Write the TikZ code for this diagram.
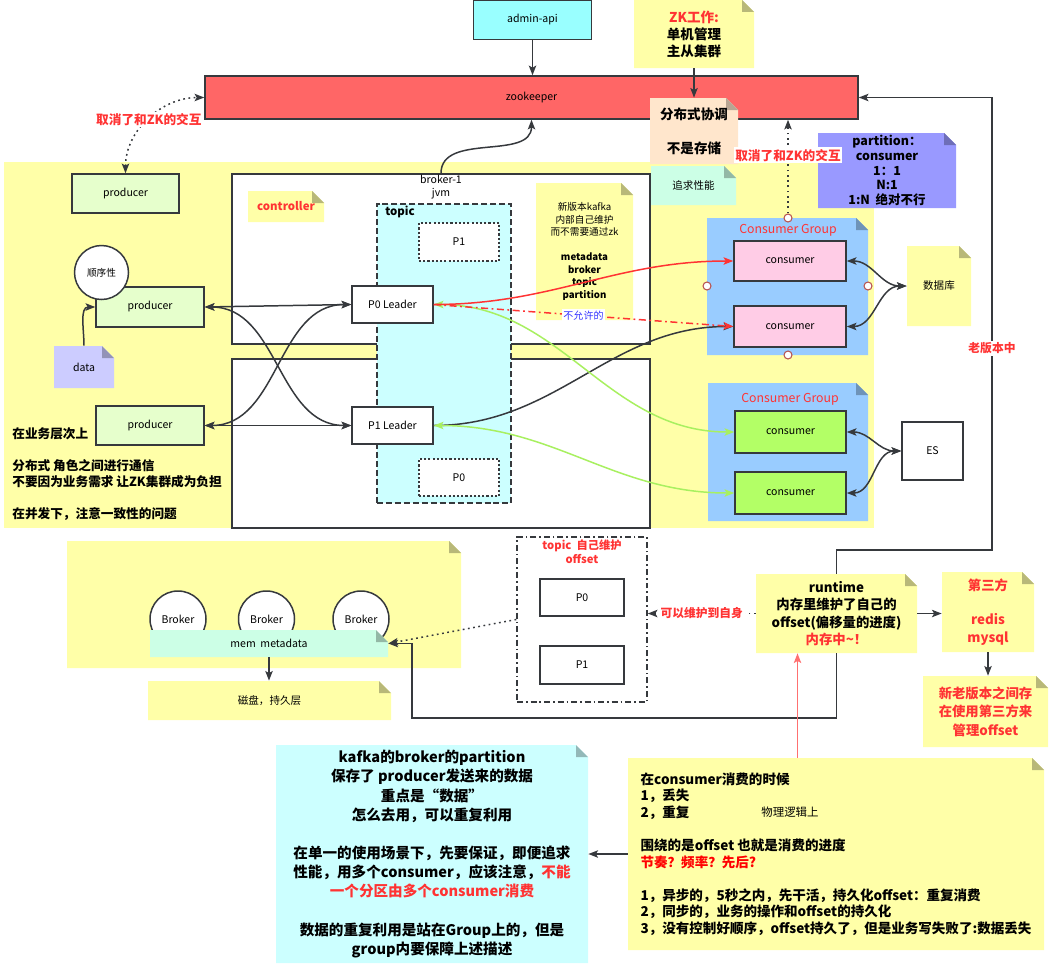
\documentclass[tikz,border=0pt]{standalone}
\usepackage{fontspec}
\setmainfont{Noto Sans CJK SC}
\usetikzlibrary{arrows.meta}
\definecolor{edge}{HTML}{36393D}
\definecolor{notey}{HTML}{FFFFA8}
\definecolor{zkred}{HTML}{FF6666}
\definecolor{apicyan}{HTML}{99FFFF}
\definecolor{prodgreen}{HTML}{E6FFCC}
\definecolor{topiccyan}{HTML}{CCFFFF}
\definecolor{cgblue}{HTML}{99CCFF}
\definecolor{conspink}{HTML}{FFCCE6}
\definecolor{consgreen}{HTML}{B3FF66}
\definecolor{partpurple}{HTML}{9999FF}
\definecolor{peach}{HTML}{FFE6CC}
\definecolor{mint}{HTML}{CCFFE6}
\definecolor{lav}{HTML}{CCCCFF}
\definecolor{alert}{HTML}{FF3333}
\definecolor{okgreen}{HTML}{A8F060}
\definecolor{pinkline}{HTML}{FF7070}
\definecolor{portred}{HTML}{B85450}
\definecolor{nogo}{HTML}{3333FF}
\newcommand{\foldsz}{0.24cm}
\newcommand{\lblfont}{\fontsize{6}{7.4}\selectfont}
\newcommand{\seqfont}{\fontsize{5.5}{6.5}\selectfont}
\newcommand{\tagfont}{\fontsize{7.2}{9}\selectfont\bfseries}
\newcommand{\zkfont}{\fontsize{7.7}{9.7}\selectfont\bfseries}
\newcommand{\newverfont}{\fontsize{5.5}{7.1}\selectfont}
\newcommand{\partfont}{\fontsize{7.1}{8.4}\selectfont\bfseries}
\newcommand{\cgfont}{\fontsize{7}{8}\selectfont}
\newcommand{\sidefont}{\fontsize{7.2}{9.07}\selectfont\bfseries}
\newcommand{\runfont}{\fontsize{7.6}{9.8}\selectfont\bfseries}
\newcommand{\kafkafont}{\fontsize{8.3}{10.9}\selectfont\bfseries}
\newcommand{\consfont}{\fontsize{7.7}{9.45}\selectfont\bfseries}
\newcommand{\offfont}{\fontsize{6.4}{8}\selectfont\bfseries}
\newcommand{\smalltagfont}{\fontsize{6.7}{8}\selectfont\bfseries}
\tikzset{
  >={Stealth[length=5.5pt,width=4.2pt,inset=1.2pt]},
  boxsize/.style 2 args={minimum width=#1*0.02cm, minimum height=#2*0.02cm},
  plainbox/.style={draw=edge, line width=0.85pt, inner sep=1pt, align=center, font=\lblfont},
  dotbox/.style={plainbox, dash pattern=on 1.2pt off 1.2pt, line width=1pt},
  note/.style={inner sep=1pt, align=center, font=\lblfont, path picture={
      \fill[#1] (path picture bounding box.south west) -- (path picture bounding box.north west)
        -- ([xshift=-\foldsz]path picture bounding box.north east) -- ([yshift=-\foldsz]path picture bounding box.north east)
        -- (path picture bounding box.south east) -- cycle;
      \fill[#1!72!black] ([xshift=-\foldsz]path picture bounding box.north east) -- ([yshift=-\foldsz]path picture bounding box.north east)
        -- ([xshift=-\foldsz,yshift=-\foldsz]path picture bounding box.north east) -- cycle;}},
  port/.style={circle, draw=portred, fill=white, line width=0.6pt, minimum size=8*0.02cm, inner sep=0},
  link/.style={draw=edge, line width=0.85pt},
  dotlink/.style={link, dash pattern=on 1pt off 2pt},
  redtag/.style={font=\tagfont, text=alert, inner sep=1pt},
}
\begin{document}
\begin{tikzpicture}[x=0.02cm, y=-0.02cm]
\useasboundingbox (0,0) rectangle (1060,970);
\node[fill=notey, boxsize={870}{366}] (bizarea) at (439,345) {};
\node[plainbox, fill=apicyan, boxsize={118}{39}] (adminapi) at (532.5,20) {admin-api};
\node[plainbox, fill=zkred, boxsize={653}{43}] (zk) at (531.5,97.5) {zookeeper};
\node[note=notey, boxsize={120}{68}, font=\zkfont] (zkwork) at (694,34) {\textcolor{alert}{ZK工作:}\\单机管理\\主从集群};
\node[note=peach, boxsize={88}{66}, font=\zkfont] (coord) at (694,131) {分布式协调\\ \mbox{}\\不是存储};
\node[plainbox, fill=prodgreen, boxsize={107}{39}] (producerA) at (125.5,193.5) {producer};
\node[plainbox, fill=white, boxsize={418}{170}] (brokerup) at (441,259) {};
\node[plainbox, fill=white, boxsize={418}{169}] (brokerdown) at (441,443.5) {};
\node[font=\lblfont, align=center, inner sep=0] (brokertag) at (441,187) {broker-1\\jvm};
\node[note=notey, boxsize={76}{31}, font=\fontsize{6.5}{8}\selectfont\bfseries, text=alert] (controller) at (286,206.5) {controller};
\node[draw=edge, line width=0.85pt, dash pattern=on 3.4pt off 1.7pt, fill=topiccyan, boxsize={134}{299}] (topic) at (444,353.5) {};
\node[font=\fontsize{6.5}{8}\selectfont\bfseries, anchor=west, inner sep=0] (topictag) at (385,212) {topic};
\node[dotbox, fill=white, boxsize={80}{38}] (pone) at (459,242) {P1};
\node[dotbox, fill=white, boxsize={80}{37}] (pzero) at (459,477.5) {P0};
\node[plainbox, fill=white, boxsize={81}{37}] (leaderzero) at (392.5,304.5) {P0 Leader};
\node[plainbox, fill=white, boxsize={81}{37}] (leaderone) at (392.5,425.5) {P1 Leader};
\node[note=notey, boxsize={97}{137}, font=\newverfont] (newver) at (584.5,251.5) {新版本kafka\\内部自己维护\\而不需要通过zk\\ \mbox{}\\\textbf{metadata}\\\textbf{broker}\\\textbf{topic}\\\textbf{partition}};
\node[note=mint, boxsize={85}{39}] (perf) at (693.5,185.5) {追求性能};
\node[note=partpurple, boxsize={138}{75}, font=\partfont] (partnote) at (887,170.5) {partition：\\consumer\\1：1\\N:1\\1:N\ \ 绝对不行};
\node[note=cgblue, boxsize={161}{137}] (cgone) at (787.5,286.5) {};
\node[font=\cgfont, text=alert] (cgonetag) at (788,230) {Consumer Group};
\node[plainbox, fill=conspink, boxsize={112}{40}] (consA) at (790,261) {consumer};
\node[plainbox, fill=conspink, boxsize={112}{41}] (consB) at (790,326.5) {consumer};
\foreach \portx/\porty/\portname in {707/286/pwest, 868/286/peast, 788/355/psouth, 788/218/pnorth}
  \node[port] (\portname) at (\portx,\porty) {};
\node[note=notey, boxsize={64}{80}] (db) at (939,286) {数据库};
\node[note=cgblue, boxsize={160}{138}] (cgtwo) at (788,452) {};
\node[font=\cgfont, text=alert] (cgtwotag) at (790,399) {Consumer Group};
\node[plainbox, fill=consgreen, boxsize={111}{42}] (consC) at (790.5,432) {consumer};
\node[plainbox, fill=consgreen, boxsize={111}{42}] (consD) at (790.5,493) {consumer};
\node[plainbox, fill=white, boxsize={61}{58}] (es) at (932.5,451) {ES};
\node[plainbox, fill=prodgreen, boxsize={108}{40}] (producerB) at (150,307) {producer};
\node[plainbox, fill=prodgreen, boxsize={108}{39}] (producerC) at (150,425.5) {producer};
\node[circle, draw=edge, line width=0.85pt, fill=white, minimum size=54*0.02cm, inner sep=0, font=\seqfont] (seq) at (101.5,272.5) {顺序性};
\node[note=lav, boxsize={60}{42}] (data) at (84,367) {data};
\node[font=\sidefont, align=left, anchor=west, inner sep=0] (bizlabel) at (12,474) {在业务层次上\\ \mbox{}\\分布式 角色之间进行通信\\不要因为业务需求 让ZK集群成为负担\\ \mbox{}\\在并发下，注意一致性的问题};
\node[note=notey, boxsize={394}{127}] (brokers) at (264,604.5) {};
\foreach \bx [count=\bi] in {178,266.5,361}
  \node[circle, draw=edge, line width=0.85pt, fill=white, minimum size=56*0.02cm, inner sep=0, font=\lblfont] (bnode\bi) at (\bx,619) {Broker};
\node[note=mint, boxsize={238}{27}] (memmeta) at (269,643.5) {mem\ \ metadata};
\node[note=notey, boxsize={243}{39}] (disk) at (269.5,700.5) {磁盘，持久层};
\node[draw=edge, line width=0.85pt, dash pattern=on 3.4pt off 1.7pt on 0.9pt off 1.7pt, fill=white, boxsize={130}{165}] (offsetbox) at (582,619.5) {};
\node[font=\offfont, text=alert, align=center, inner sep=0] (offsettag) at (582,552) {topic\ \ 自己维护\\offset};
\node[plainbox, fill=white, boxsize={84}{37}] (tpzero) at (582,597.5) {P0};
\node[plainbox, fill=white, boxsize={84}{38}] (tpone) at (582,665) {P1};
\node[note=notey, boxsize={161}{79}, font=\runfont] (runtime) at (836.5,613.5) {runtime\\内存里维护了自己的\\offset(偏移量的进度)\\\textcolor{alert}{内存中\textasciitilde！}};
\node[note=notey, boxsize={92}{80}, font=\runfont, text=alert] (third) at (988,612) {第三方\\ \mbox{}\\redis\\mysql};
\node[note=notey, boxsize={125}{71}, font=\fontsize{7.6}{10.5}\selectfont\bfseries, text=alert] (oldnew) at (985.5,711.5) {新老版本之间存\\在使用第三方来\\管理offset};
\node[note=topiccyan, boxsize={312}{218}, font=\kafkafont] (kafkanote) at (432,854) {kafka的broker的partition\\保存了 producer发送来的数据\\重点是“数据”\\怎么去用，可以重复利用\\ \mbox{}\\在单一的使用场景下，先要保证，即便追求\\性能，用多个consumer，应该注意，\textcolor{alert}{不能}\\\textcolor{alert}{一个分区由多个consumer消费}\\ \mbox{}\\数据的重复利用是站在Group上的，但是\\group内要保障上述描述};
\node[note=notey, boxsize={416}{192}, font=\consfont, align=left] (consnote) at (836,854) {在consumer消费的时候\\1，丢失\\2，重复\\ \mbox{}\\围绕的是offset 也就是消费的进度\\\textcolor{red}{节奏？频率？先后?}\\ \mbox{}\\1，异步的，5秒之内，先干活，持久化offset：重复消费\\2，同步的，业务的操作和offset的持久化\\3，没有控制好顺序，offset持久了，但是业务写失败了:数据丢失};
\node[font=\fontsize{6.5}{8}\selectfont] (physlabel) at (790,812) {物理逻辑上};
\coordinate (oldcorner) at (992,550);
\coordinate (memcorner) at (412,718);
\coordinate (pinkfoot) at ([xshift=-0.77cm]consnote.north);
\draw[link, ->] (adminapi.south) -- (adminapi.south |- zk.north);
\draw[link, ->] (zkwork.south) -- (coord.north);
\draw[dotlink, <->] (producerA.north) to[out=90,in=180] node[redtag, fill=white]{取消了和ZK的交互} (zk.west);
\draw[link, ->] (brokerup.north) to[out=90,in=-90] (zk.south);
\draw[dotlink, ->] (pnorth.north) -- (pnorth.north |- zk.south) node[pos=0.62, redtag, fill=white]{取消了和ZK的交互};
\draw[link, ->] (data.north) to[out=90,in=180] (producerB.west);
\draw[link, <->] (producerB.east) -- (leaderzero.west);
\draw[link, <->] (producerB.east) to[out=0,in=180] (leaderone.west);
\draw[link, <->] (producerC.east) -- (leaderone.west);
\draw[link, <->] (producerC.east) to[out=0,in=180] (leaderzero.west);
\draw[link, ->] (leaderone.east) to[out=0,in=180] (consB.west);
\draw[link, draw=okgreen, <->] (leaderzero.east) to[out=0,in=180] (consC.west);
\draw[link, draw=okgreen, <->] (leaderone.east) to[out=0,in=180] (consD.west);
\draw[link, draw=alert, ->] (leaderzero.east) to[out=0,in=180] (consA.west);
\draw[link, draw=alert, ->, dash pattern=on 4pt off 2pt on 1pt off 2pt] (leaderzero.east) -- node[fill=white, text=nogo, font=\fontsize{5.7}{7}\selectfont, inner sep=1pt]{不允许的} (consB.west);
\draw[link, <->] (consA.east) to[out=0,in=180] (db.west);
\draw[link, <->] (consB.east) to[out=0,in=180] (db.west);
\draw[link, <->] (consC.east) to[out=0,in=180] (es.west);
\draw[link, <->] (consD.east) to[out=0,in=180] (es.west);
\draw[link, ->] (runtime.north) |- (oldcorner) -- (oldcorner |- zk.east) node[pos=0.446, fill=white, font=\smalltagfont, text=alert, inner sep=1pt]{老版本中} -- (zk.east);
\draw[link, ->] (runtime.south) |- (memcorner) |- (memmeta.east);
\draw[dotlink, ->] (runtime.west) -- (runtime.west -| offsetbox.east) node[midway, fill=white, font=\smalltagfont, text=alert, inner sep=1pt]{可以维护到自身};
\draw[dotlink, ->] (offsetbox.west) -- (memmeta.east);
\draw[link, ->] (memmeta.south) -- (memmeta.south |- disk.north);
\draw[link, ->] (runtime.east) -- (runtime.east -| third.west);
\draw[link, ->] (third.south) -- (third.south |- oldnew.north);
\draw[link, ->] (consnote.west) -- (consnote.west -| kafkanote.east);
\draw[link, draw=pinkline, ->] (pinkfoot) -- (pinkfoot |- runtime.south);
\end{tikzpicture}
\end{document}
